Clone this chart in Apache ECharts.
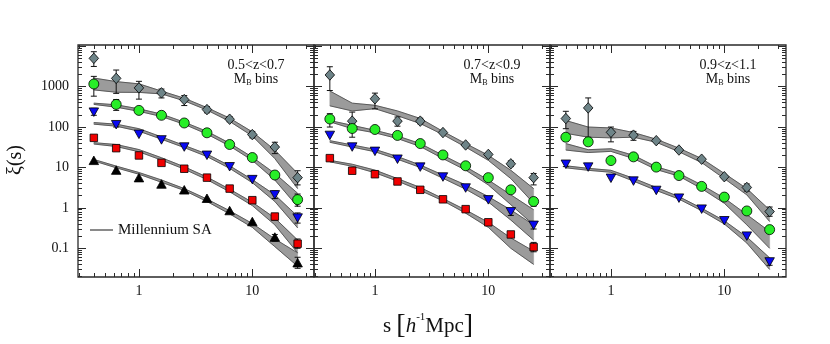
<!DOCTYPE html>
<html>
<head>
<meta charset="utf-8">
<title>xi(s) in M_B bins</title>
<script src="https://cdn.jsdelivr.net/npm/echarts@6.0.0/dist/echarts.min.js"></script>
<style>
  html, body {margin: 0; padding: 0; background: #fff;}
  #chart {width: 830px; height: 344px;}
</style>
</head>
<body>
<div id="chart"></div>
<script>
'use strict';

/*
  separation bins (h^-1 Mpc), the same in every panel
*/
var sBins = [0.4, 0.63, 1.0, 1.58, 2.51, 3.98, 6.31, 10, 15.8, 25.1];

var xRange = [0.29, 35],
    yRange = [0.0195, 10700];

var xMajorTicks = [1, 10],
    yMajorTicks = [0.1, 1, 10, 100, 1000, 10000],
    xTickLabels = [1, 10],
    yTickLabels = [0.1, 1, 10, 100, 1000];

var panelTitles = ['0.5<z<0.7', '0.7<z<0.9', '0.9<z<1.1'];

/*
  panel 1: 0.5<z<0.7
  xxx      = measured xi(s)
  xxxErr   = [low, high] of the error bar, null when hidden by the marker
  xxxModel = [low, high] of the Millennium SA band
*/
var p1Gray       = [5000, 1600, 930, 700, 477, 270, 156, 65, 32, 5.6];
var p1GrayErr    = [[3150, 7300], [680, 2570], [490, 1350], [525, 870], [340, 600], [225, 320], [135, 180], [54, 78], [22, 42], [3.7, 8.3]];
var p1GrayModel  = [[830, 1630], [725, 1330], [720, 1170], [660, 775], [445, 517], [263, 302], [138, 166], [60, 76], [16.6, 27], [3.0, 7.1]];

var p1Green      = [1160, 363, 258, 195, 126, 72, 37, 17.6, 6.5, 1.6];
var p1GreenErr   = [[580, 1790], [258, 480], null, null, null, null, null, null, [5.3, 8.0], [1.1, 2.2]];
var p1GreenModel = [[363, 390], [310, 355], [245, 282], [182, 209], [117, 132], [67, 78], [34, 40], [15, 18], [4.9, 7.1], [1.07, 2.3]];

var p1Blue       = [233, 114, 66, 48, 32, 20, 10.4, 5.0, 2.1, 0.56];
var p1BlueErr    = [[195, 290], [100, 130], null, null, null, null, null, null, [1.7, 2.6], [0.42, 0.75]];
var p1BlueModel  = [[118, 129], [105, 118], [79, 91], [50, 57], [31, 35], [18.6, 21.5], [9.5, 11], [4.2, 5.0], [1.44, 2.1], [0.32, 0.62]];

var p1Red        = [54, 30, 19.8, 13, 9.3, 5.6, 3.0, 1.55, 0.61, 0.13];
var p1RedErr     = [null, null, null, null, null, null, null, null, [0.5, 0.73], [0.1, 0.17]];
var p1RedModel   = [[38, 41], [33, 37], [24.4, 27.7], [15.2, 17.4], [9.1, 10.4], [5.0, 5.8], [2.5, 2.9], [1.14, 1.38], [0.38, 0.56], [0.077, 0.16]];

var p1Black      = [15, 8.6, 5.6, 3.9, 2.8, 1.73, 0.86, 0.46, 0.19, 0.044];
var p1BlackErr   = [null, null, null, null, null, null, null, null, [0.15, 0.22], [0.032, 0.06]];
var p1BlackModel = [[14.5, 15.8], [9.8, 10.8], [6.8, 7.5], [4.3, 4.9], [2.7, 3.0], [1.44, 1.65], [0.71, 0.85], [0.33, 0.41], [0.11, 0.17], [0.036, 0.077]];

/*
  panel 2: 0.7<z<0.9
*/
var p2Gray       = [1940, 140, 500, 140, 140, 73, 36, 21, 12.3, 5.6];
var p2GrayErr    = [[800, 3100], [83, 234], [282, 690], [105, 177], [120, 165], null, null, null, [10.5, 14.5], [3.7, 7.1]];
var p2GrayModel  = [[335, 780], [250, 390], [285, 345], [190, 250], [122, 163], [65, 78], [32, 39], [15, 20], [5.3, 8.5], [1.3, 3.0]];

var p2Green      = [158, 92, 87, 62, 39, 20.4, 11, 5.6, 2.8, 1.44];
var p2GreenErr   = [[100, 214], [56, 120], null, null, null, null, null, null, null, [1.1, 1.8]];
var p2GreenModel = [[135, 145], [91, 110], [72, 83], [52, 60], [33, 39], [16.6, 20], [8.6, 10.4], [3.7, 4.9], [1.2, 2.1], [0.38, 0.9]];

var p2Blue       = [62, 32, 25, 16, 10.2, 5.8, 3.1, 1.58, 0.8, 0.37];
var p2BlueErr    = [null, null, null, null, null, null, null, null, [0.65, 0.95], [0.3, 0.46]];
var p2BlueModel  = [[42, 46], [32, 36], [24.5, 28], [16, 18.6], [10, 11.5], [5.4, 6.5], [2.9, 3.7], [1.4, 1.9], [0.5, 0.89], [0.16, 0.38]];

var p2Red        = [17, 8.3, 6.8, 4.5, 2.8, 1.63, 0.93, 0.44, 0.22, 0.107];
var p2RedErr     = [null, null, null, null, null, null, null, null, null, [0.082, 0.14]];
var p2RedModel   = [[13.8, 15], [10.7, 12], [7.4, 8.6], [4.6, 5.3], [2.7, 3.2], [1.5, 1.7], [0.74, 0.89], [0.33, 0.44], [0.10, 0.18], [0.04, 0.085]];

/*
  panel 3: 0.9<z<1.1
*/
var p3Gray       = [162, 297, 74, 63, 46, 27, 16, 5.9, 3.2, 0.81];
var p3GrayErr    = [[91, 245], [56, 525], [43, 100], [47, 78], null, null, null, null, [2.6, 3.9], [0.62, 1.05]];
var p3GrayModel  = [[70, 145], [56, 100], [54, 95], [56, 73], [42, 50], [24.5, 30], [13.2, 16.6], [5.3, 7.1], [2.1, 3.0], [0.46, 0.89]];

var p3Green      = [56, 43, 14.8, 18.3, 10.2, 6.3, 3.4, 1.85, 0.84, 0.29];
var p3GreenErr   = [[45, 68], null, null, null, null, null, null, null, null, [0.25, 0.35]];
var p3GreenModel = [[27, 39], [23.4, 27.5], [25, 29], [16.6, 20], [8.9, 10.4], [6.1, 7.1], [3.0, 3.7], [1.3, 1.74], [0.38, 0.68], [0.10, 0.26]];

var p3Blue       = [12, 10.2, 5.4, 4.6, 2.7, 1.74, 0.93, 0.48, 0.20, 0.046];
var p3BlueErr    = [[10.5, 13.5], null, null, null, null, null, null, null, null, [0.038, 0.056]];
var p3BlueModel  = [[9.8, 11], [8.5, 9.5], [7.6, 8.5], [4.6, 5.4], [2.7, 3.2], [1.65, 1.9], [0.85, 0.98], [0.40, 0.48], [0.135, 0.19], [0.030, 0.058]];

(function(){

  var serif = '"Liberation Serif", "DejaVu Serif", serif',
      ink = '#111',
      frame = '#2a2a2a',
      lg = Math.log10;

  /*
    grid geometry
  */
  var gridLeft = 78, gridTop = 45, gridW = 236, gridH = 232;

  /*
    marker style of every magnitude bin
  */
  var markStyle = {
    gray:  {symbol: 'diamond',  size: [9.5, 10.5], rotate: 0,   color: '#6e8488'},
    green: {symbol: 'circle',   size: 10,         rotate: 0,   color: '#27ee27'},
    blue:  {symbol: 'triangle', size: [9.5, 8.5], rotate: 180, color: '#0808f2'},
    red:   {symbol: 'rect',     size: 7.5,        rotate: 0,   color: '#f00000'},
    black: {symbol: 'triangle', size: [9.5, 8.5], rotate: 0,   color: '#000'}
  };

  var panelSets = [
    [['gray', p1Gray, p1GrayErr, p1GrayModel], ['green', p1Green, p1GreenErr, p1GreenModel],
     ['blue', p1Blue, p1BlueErr, p1BlueModel], ['red', p1Red, p1RedErr, p1RedModel],
     ['black', p1Black, p1BlackErr, p1BlackModel]],
    [['gray', p2Gray, p2GrayErr, p2GrayModel], ['green', p2Green, p2GreenErr, p2GreenModel],
     ['blue', p2Blue, p2BlueErr, p2BlueModel], ['red', p2Red, p2RedErr, p2RedModel]],
    [['gray', p3Gray, p3GrayErr, p3GrayModel], ['green', p3Green, p3GreenErr, p3GreenModel],
     ['blue', p3Blue, p3BlueErr, p3BlueModel]]
  ];

  /*
    minor ticks at 2..9 x 10^n inside a range
  */
  var minorTicks = function(range){
    var out = [];
    for (var d = -3; d <= 4; d++) {
      for (var m = 2; m <= 9; m++) {
        var v = m * Math.pow(10, d);
        if (v >= range[0] && v <= range[1]) out.push(v);
      }
    }
    return out;
  };

  var fmt = function(v){
    return String(parseFloat(Math.pow(10, v).toPrecision(3)));
  };

  var tickLine = {color: frame, width: 1};

  /*
    axis factory: ticks and labels in data units, drawn on log10 values
  */
  var makeAxis = function(grid, pos, values, len, labels){
    var range = (pos === 'top' || pos === 'bottom') ? xRange : yRange;
    return {
      gridIndex: grid,
      type: 'value',
      position: pos,
      min: lg(range[0]),
      max: lg(range[1]),
      axisLine: {show: false, onZero: false},
      splitLine: {show: false},
      axisTick: {show: true, inside: true, length: len, customValues: values.map(lg), lineStyle: tickLine},
      axisLabel: labels ? {
        show: true, customValues: labels.map(lg), formatter: fmt,
        margin: pos === 'left' ? 9 : 7,
        color: ink, fontFamily: serif, fontSize: 14
      } : {show: false}
    };
  };

  var grids = [], xAxes = [], yAxes = [], series = [], graphics = [];
  var xMinor = minorTicks(xRange), yMinor = minorTicks(yRange);

  panelSets.forEach(function(sets, i){
    grids.push({
      left: gridLeft + gridW * i, top: gridTop, width: gridW, height: gridH,
      show: true, borderColor: frame, borderWidth: 1.3,
      backgroundColor: 'transparent', containLabel: false, outerBoundsMode: 'none'
    });

    xAxes.push(makeAxis(i, 'bottom', xMajorTicks, 8, xTickLabels));
    xAxes.push(makeAxis(i, 'top', xMajorTicks, 8, null));
    xAxes.push(makeAxis(i, 'bottom', xMinor, 4, null));
    xAxes.push(makeAxis(i, 'top', xMinor, 4, null));

    yAxes.push(makeAxis(i, 'left', yMajorTicks, 8, i === 0 ? yTickLabels : null));
    yAxes.push(makeAxis(i, 'right', yMajorTicks, 8, null));
    yAxes.push(makeAxis(i, 'left', yMinor, 4, null));
    yAxes.push(makeAxis(i, 'right', yMinor, 4, null));

    var ax = i * 4;

    /*
      Millennium SA bands, one polygon per magnitude bin
    */
    series.push({
      type: 'custom',
      xAxisIndex: ax, yAxisIndex: ax,
      silent: true, z: 1,
      data: [[lg(sBins[0]), 0]],
      encode: {x: 0, y: 1},
      renderItem: function(params, api){
        var children = [];
        sets.forEach(function(set){
          var model = set[3];
          var top = sBins.map(function(s, k){ return api.coord([lg(s), lg(model[k][1])]); });
          var bot = sBins.map(function(s, k){ return api.coord([lg(s), lg(model[k][0])]); });
          children.push({type: 'polygon', shape: {points: top.concat(bot.slice().reverse())},
                         style: {fill: '#9b9b9b', stroke: '#9b9b9b', lineWidth: 0.5}});
          children.push({type: 'polyline', shape: {points: top}, style: {stroke: '#505050', lineWidth: 0.9, fill: null}});
          children.push({type: 'polyline', shape: {points: bot}, style: {stroke: '#505050', lineWidth: 0.9, fill: null}});
        });
        return {type: 'group', children: children};
      }
    });

    sets.forEach(function(set){
      var st = markStyle[set[0]], vals = set[1], errs = set[2];

      // error bars
      var errData = [];
      errs.forEach(function(e, k){
        e && errData.push([lg(sBins[k]), lg(vals[k]), lg(e[0]), lg(e[1])]);
      });
      series.push({
        type: 'custom',
        xAxisIndex: ax, yAxisIndex: ax,
        silent: true, z: 2,
        data: errData,
        encode: {x: 0, y: [1, 2, 3]},
        renderItem: function(params, api){
          var x = api.value(0),
              lo = api.coord([x, api.value(2)]),
              hi = api.coord([x, api.value(3)]),
              w = 3,
              style = {stroke: ink, lineWidth: 1};
          return {type: 'group', children: [
            {type: 'line', shape: {x1: lo[0], y1: lo[1], x2: hi[0], y2: hi[1]}, style: style},
            {type: 'line', shape: {x1: lo[0] - w, y1: lo[1], x2: lo[0] + w, y2: lo[1]}, style: style},
            {type: 'line', shape: {x1: hi[0] - w, y1: hi[1], x2: hi[0] + w, y2: hi[1]}, style: style}
          ]};
        }
      });

      // markers
      series.push({
        type: 'scatter',
        xAxisIndex: ax, yAxisIndex: ax,
        z: 3, silent: true,
        symbol: st.symbol,
        symbolSize: st.size,
        symbolRotate: st.rotate,
        itemStyle: {color: st.color, borderColor: '#000', borderWidth: 0.8, opacity: 1},
        data: vals.map(function(v, k){ return [lg(sBins[k]), lg(v)]; })
      });
    });

    /*
      panel titles
    */
    var cx = gridLeft + gridW * (i + 1) - 58;
    graphics.push({
      type: 'text', x: cx, y: 65,
      style: {text: panelTitles[i], fill: ink, font: '14px ' + serif,
              align: 'center', verticalAlign: 'middle', textAlign: 'center', textVerticalAlign: 'middle'}
    });
    graphics.push({
      type: 'text', x: cx, y: 79,
      style: {
        text: '{m|M}{b|B}{m| bins}', fill: ink,
        align: 'center', verticalAlign: 'middle', textAlign: 'center', textVerticalAlign: 'middle',
        rich: {
          m: {fontSize: 14, fontFamily: serif, lineHeight: 16, verticalAlign: 'middle', color: ink},
          b: {fontSize: 8, fontFamily: serif, lineHeight: 8, verticalAlign: 'bottom', color: ink}
        }
      }
    });
  });

  /*
    axis titles and the legend
  */
  graphics.push({
    type: 'text', x: 16, y: 160, rotation: Math.PI / 2,
    style: {text: 'ξ(s)', fill: ink, font: '20px ' + serif,
            align: 'center', verticalAlign: 'middle', textAlign: 'center', textVerticalAlign: 'middle'}
  });
  graphics.push({
    type: 'text', x: 428, y: 326,
    style: {
      text: '{r|s }{k|[}{i|h}{p|-1}{r|Mpc}{k|]}', fill: ink,
      align: 'center', verticalAlign: 'middle', textAlign: 'center', textVerticalAlign: 'middle',
      rich: {
        r: {fontSize: 21, fontFamily: serif, lineHeight: 28, verticalAlign: 'middle', color: ink},
        i: {fontSize: 21, fontFamily: serif, fontStyle: 'italic', lineHeight: 28, verticalAlign: 'middle', color: ink},
        k: {fontSize: 28, fontFamily: serif, lineHeight: 28, verticalAlign: 'middle', color: ink},
        p: {fontSize: 11, fontFamily: serif, lineHeight: 18, verticalAlign: 'top', color: ink}
      }
    }
  });
  graphics.push({
    type: 'line', shape: {x1: 90, y1: 230, x2: 113, y2: 230},
    style: {stroke: '#8a8a8a', lineWidth: 2}
  });
  graphics.push({
    type: 'text', x: 118, y: 230,
    style: {text: 'Millennium SA', fill: ink, font: '15px ' + serif,
            align: 'left', verticalAlign: 'middle', textAlign: 'left', textVerticalAlign: 'middle'}
  });

  var chart = echarts.init(document.getElementById('chart'), null, {renderer: 'canvas'});
  chart.setOption({
    animation: false,
    backgroundColor: '#fff',
    grid: grids,
    xAxis: xAxes,
    yAxis: yAxes,
    series: series,
    graphic: graphics
  });
})();
</script>
</body>
</html>
